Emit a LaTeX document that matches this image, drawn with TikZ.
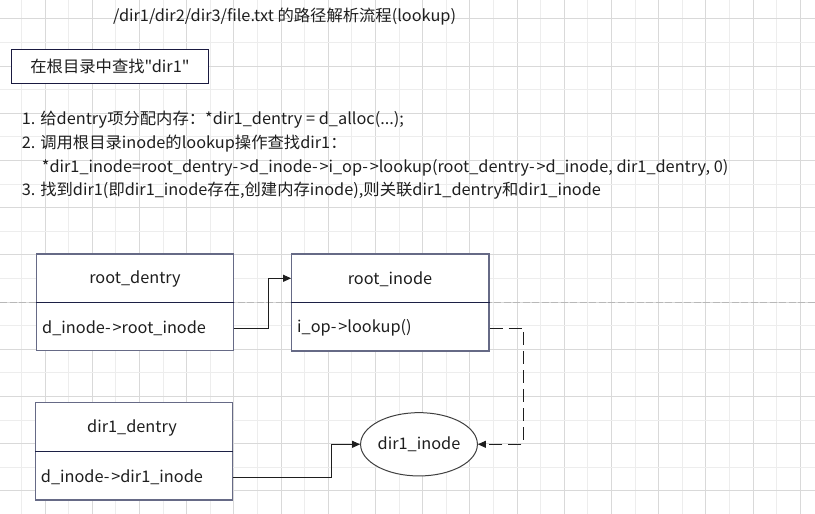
\documentclass[tikz,border=0pt]{standalone}
\usepackage{fontspec}
\setmainfont{Noto Sans CJK SC}[FakeStretch=1.02, Ligatures=TeXOff]
\usetikzlibrary{arrows.meta,shapes.geometric,calc}
\definecolor{gridD}{HTML}{D9D9D9}
\definecolor{gridL}{HTML}{EDEDED}
\definecolor{pagebrk}{HTML}{B8B8B8}
\definecolor{boxedge}{HTML}{666A86}
\definecolor{divcol}{HTML}{1C2045}
\definecolor{txt}{HTML}{1E1E1E}
\definecolor{titleedge}{HTML}{1A1A40}
\newcommand{\arw}{-\kern1.8pt>}
\tikzset{
  txtnode/.style={inner sep=0pt, text=txt},
  recbox/.style={draw=boxedge, line width=1.2pt, minimum width=196.6pt, inner sep=0pt},
  divline/.style={draw=divcol, line width=1.1pt},
  conn/.style={draw=txt, line width=0.9pt, -{Triangle[length=8pt,width=7pt]}},
  dconn/.style={conn, dash pattern=on 13pt off 6pt},
}
\begin{document}
\begin{tikzpicture}[x=1pt,y=-1pt, font=\fontsize{16}{20}\selectfont]
\useasboundingbox[fill=white] (0,0) rectangle (815,514);
% grid
\foreach \k in {0,...,33}{\ifodd\k \def\gc{gridD}\else\def\gc{gridL}\fi
  \draw[\gc, line width=0.9pt] ({21.5+23.6*\k},0) -- ++(0,514);}
\foreach \k in {0,...,20}{\ifodd\k \def\gc{gridL}\else\def\gc{gridD}\fi
  \draw[\gc, line width=0.9pt] (0,{18.8+23.6*\k}) -- ++(815,0);}
\draw[pagebrk, line width=1pt, dash pattern=on 7pt off 2.5pt] (0,302.3) -- (815,302.3);

% title
\node[txtnode, anchor=west] (title) at (113,17) {/dir1/dir2/dir3/file.txt 的路径解析流程(lookup)};

% title box
\node[draw=titleedge, line width=1.1pt, fill=white, minimum width=196.6pt, minimum height=34pt, inner sep=0pt, text=txt] (find) at (110,66.3) {在根目录中查找"dir1"};

% list
\node[txtnode, anchor=west] (l1) at (21.7,120) {1. 给dentry项分配内存：*dir1\_dentry = d\_alloc(...);};
\node[txtnode, anchor=west] (l2) at (21.7,143.3) {2. 调用根目录inode的lookup操作查找dir1：};
\node[txtnode, anchor=west] (l3) at (41.7,168.3) {*dir1\_inode=root\_dentry\arw d\_inode\arw i\_op\arw lookup(root\_dentry\arw d\_inode, dir1\_dentry, 0)};
\node[txtnode, anchor=west] (l4) at (21.7,190.7) {3. 找到dir1(即dir1\_inode存在,创建内存inode),则关联dir1\_dentry和dir1\_inode};

% root_dentry
\node[recbox, fill=white, minimum height=96.7pt] (rd) at (135,302.35) {};
\draw[divline] (rd.west) -- (rd.east);
\node[txtnode] (rdt) at (135,279.5) {root\_dentry};
\node[txtnode, anchor=west] (rdf) at (42,328) {d\_inode\arw root\_inode};

% root_inode
\node[recbox, fill=white, minimum width=197.3pt, minimum height=97pt] (ri) at (390.35,302.5) {};
\draw[divline] (ri.west) -- (ri.east);
\node[txtnode] (rit) at (390,279.5) {root\_inode};
\node[txtnode, anchor=west] (rif) at (297,328) {i\_op\arw lookup()};

% dir1_dentry
\node[recbox, fill=white, minimum height=97.3pt] (dd) at (134,451.35) {};
\draw[divline] (dd.west) -- (dd.east);
\node[txtnode] (ddt) at (132,428.5) {dir1\_dentry};
\node[txtnode, anchor=west] (ddf) at (40.7,477) {d\_inode\arw dir1\_inode};

% dir1_inode ellipse
\node[ellipse, draw=black!75, line width=1pt, fill=white, minimum width=103.4pt, minimum height=63.3pt, inner sep=0pt, text=txt] (di) at (419,444.3) {dir1\_inode};

% connectors
\coordinate (c1) at (268.3,328);
\draw[conn] (rd.east |- rdf) -- (c1) |- (ri.west |- 0,278.3);
\coordinate (c2) at (523.3,328);
\draw[dconn] (ri.east |- rif) -- (c2) |- (di.east);
\coordinate (c3) at (331.7,477);
\draw[conn] (dd.east |- ddf) -- (c3) |- (di.west);
\end{tikzpicture}
\end{document}
